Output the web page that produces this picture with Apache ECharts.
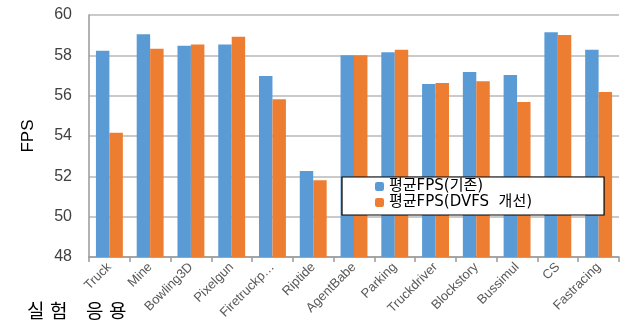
<!DOCTYPE html>
<html>
<head>
<meta charset="utf-8">
<script src="https://cdn.jsdelivr.net/npm/echarts@6/dist/echarts.min.js"></script>
<style>
html,body{margin:0;padding:0;background:#fff;}
#chart{width:637px;height:325px;}
</style>
</head>
<body>
<div id="chart"></div>
<script>
// Applications under test
const categories = ['Truck','Mine','Bowling3D','Pixelgun','Firetruckp…','Riptide','AgentBabe','Parking','Truckdriver','Blockstory','Bussimul','CS','Fastracing'];
// Average FPS, baseline governor
const fpsBase = [58.23,59.04,58.48,58.54,56.97,52.26,58.01,58.15,56.58,57.17,57.02,59.14,58.28];
// Average FPS, improved DVFS
const fpsDvfs = [54.16,58.33,58.54,58.92,55.82,51.80,58.00,58.28,56.63,56.72,55.68,59.01,56.18];
const seriesNames = ['평균FPS(기존)','평균FPS(DVFS  개선)'];
const yTicks = {min:48, max:60, interval:2};
const xTitleChars = ['실','험','응','용'];

const chart = echarts.init(document.getElementById('chart'));
const latin = '"Liberation Sans", Arial, "Noto Sans CJK KR", sans-serif';
const wide = '"DejaVu Sans", "Noto Sans CJK KR", sans-serif';

// x-axis title, spaced out one syllable at a time
const titleX = [27, 50, 86, 109];
const titleGraphics = xTitleChars.map((ch, i) => ({
  type:'text', left:titleX[i], top:301,
  style:{text:ch, fontSize:19, fill:'#000', fontFamily:'"Noto Sans CJK KR", sans-serif'}
}));

chart.setOption({
  animation:false,
  textStyle:{fontFamily:latin},
  grid:{left:89,right:18,top:15,bottom:68},
  legend:{
    orient:'vertical',
    left:342, top:177,
    backgroundColor:'#fff',
    borderColor:'#000', borderWidth:1.2,
    padding:[2,72,5,33],
    itemWidth:9, itemHeight:9, itemGap:1,
    textStyle:{fontSize:15, color:'#000', fontFamily:wide},
    data:seriesNames
  },
  xAxis:{
    type:'category',
    data:categories,
    axisLine:{lineStyle:{color:'#999',width:1.5}},
    axisTick:{show:true,alignWithLabel:false,length:5,lineStyle:{color:'#999',width:1.5}},
    axisLabel:{rotate:45,interval:0,color:'#595959',fontSize:13,margin:8}
  },
  yAxis:{
    type:'value',
    min:yTicks.min, max:yTicks.max, interval:yTicks.interval,
    name:'FPS', nameLocation:'middle', nameGap:52, nameRotate:90,
    nameTextStyle:{fontSize:17,color:'#000'},
    axisLine:{show:true,lineStyle:{color:'#999',width:1.5}},
    axisTick:{show:false},
    axisLabel:{color:'#404040',fontSize:16,margin:17},
    splitLine:{lineStyle:{color:'#b8b8b8',width:1.5}}
  },
  series:[
    {name:seriesNames[0],type:'bar',data:fpsBase,barGap:'0%',barCategoryGap:'34%',
     itemStyle:{color:'#5B9BD5'}},
    {name:seriesNames[1],type:'bar',data:fpsDvfs,barGap:'0%',barCategoryGap:'34%',
     itemStyle:{color:'#ED7D31'}}
  ],
  graphic:titleGraphics
});
</script>
</body>
</html>
